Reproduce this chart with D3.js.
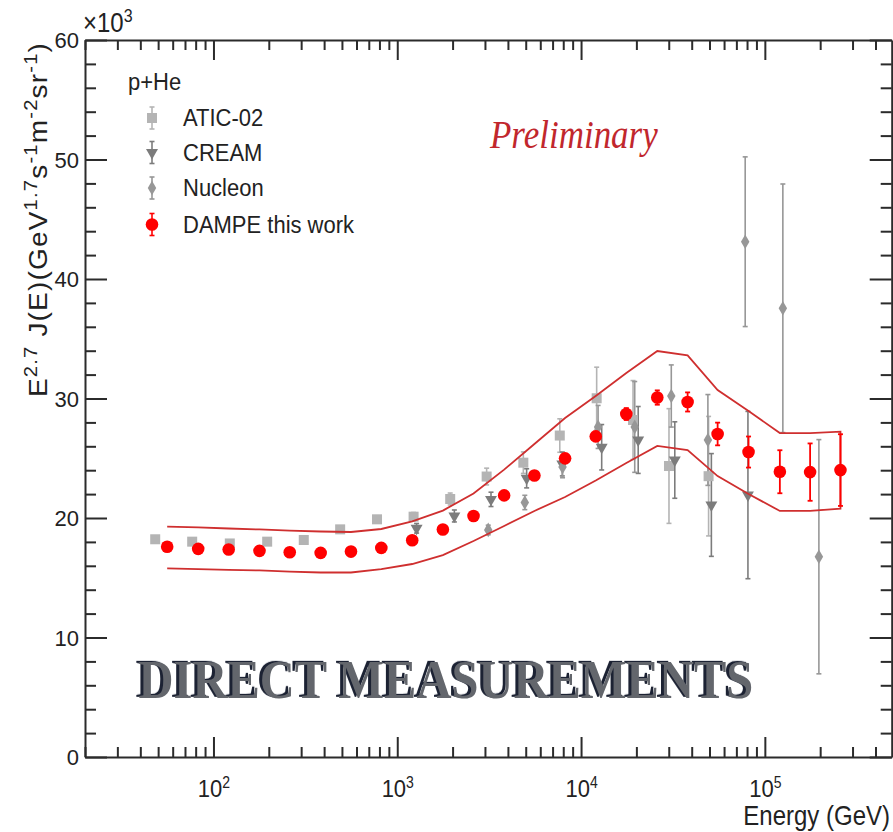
<!DOCTYPE html>
<html><head><meta charset="utf-8">
<script src="https://cdn.jsdelivr.net/npm/d3@7"></script>
<style>body{margin:0;background:#fff}svg{display:block}</style>
</head><body>
<svg id="c" width="893" height="832"></svg>
<script>
// ---------------- DATA (values in units of 10^3) ----------------
const dampeE   = [56.0, 82.6, 121, 178, 260, 383, 560, 819, 1206, 1771, 2600, 3815, 5574, 8186, 12020, 17630, 25990, 38000, 55340, 81520, 120700, 176300, 257900];
const dampeV   = [17.59, 17.42, 17.36, 17.25, 17.13, 17.08, 17.19, 17.50, 18.14, 19.04, 20.17, 21.89, 23.56, 24.99, 26.83, 28.70, 30.08, 29.71, 27.03, 25.52, 23.87, 23.84, 24.01];
const dampeErr = [0.15, 0.15, 0.15, 0.15, 0.15, 0.15, 0.15, 0.15, 0.15, 0.2, 0.2, 0.2, 0.25, 0.3, 0.4, 0.5, 0.6, 0.8, 0.95, 1.3, 1.8, 2.4, 3.0];
const bandUpper = [19.27, 19.21, 19.12, 19.04, 18.95, 18.87, 18.83, 19.08, 19.72, 20.62, 22.05, 24.05, 26.19, 28.37, 30.21, 32.13, 33.97, 33.61, 30.71, 28.95, 27.11, 27.11, 27.22];
const bandLower = [15.79, 15.73, 15.66, 15.61, 15.52, 15.44, 15.44, 15.73, 16.15, 16.90, 18.08, 19.33, 20.59, 21.76, 23.14, 24.60, 26.03, 25.69, 23.51, 22.01, 20.59, 20.59, 20.79];

const aticE   = [48.2, 76.6, 122.7, 196, 310, 489, 776, 1227, 1941, 3064, 4853, 7660, 12160, 19180, 30090, 49420];
const aticV   = [18.22, 18.02, 17.87, 18.02, 18.16, 19.05, 19.89, 20.11, 21.59, 23.47, 24.63, 26.90, 30.02, 28.20, 24.35, 23.50];
const aticErr = [0.2, 0.2, 0.2, 0.2, 0.2, 0.25, 0.3, 0.35, 0.5, 0.7, 0.9, 1.4, 2.6, 3.3, 4.8, 5.0];

const creamE   = [1274, 2045, 3236, 5058, 7907, 12950, 20460, 32360, 51170, 80910];
const creamV   = [19.14, 20.17, 21.56, 23.32, 24.52, 25.92, 26.53, 24.85, 21.09, 21.92];
const creamErr = [0.4, 0.5, 0.6, 0.8, 1.0, 1.9, 2.8, 3.2, 4.3, 7.0];

const nucleonE   = [3126, 4943, 7931, 12380, 19590, 30970, 48990, 78170, 125300, 196800];
const nucleonV   = [19.0, 21.3, 24.27, 27.62, 27.62, 30.21, 26.53, 43.12, 37.55, 16.76];
const nucleonErr = [0.4, 0.6, 0.9, 1.8, 3.8, 2.6, 3.8, 7.1, 10.4, 9.8];

const xMajorTicks = [1e2, 1e3, 1e4, 1e5];
const xTickExp = ["2", "3", "4", "5"];
const yMajorTicks = [0, 10, 20, 30, 40, 50, 60];
const legendLabels = ["ATIC-02", "CREAM", "Nucleon", "DAMPE this work"];

// ---------------- CHART ----------------
const svg = d3.select("#c");
const x = d3.scaleLog().domain([20, 4.9e5]).range([85, 891.7]);
const y = d3.scaleLinear().domain([0, 60]).range([757, 40]);
const SY = 1.12;
const AX = "#2b2b2b";
const FONT = "'Liberation Sans', Arial, Helvetica, sans-serif";
const SERIF = "'Liberation Serif', 'Times New Roman', serif";

const xMinor = [];
for (let p = 1; p <= 5; p++) for (let k = 2; k <= 9; k++) { const v = k * Math.pow(10, p); if (v >= 20 && v <= 4.9e5) xMinor.push(v); }
const yMinor = d3.range(0, 61, 2).filter(v => v % 10 !== 0);

function styleAxis(g, keepDomain) {
  if (keepDomain) g.select(".domain").attr("stroke", AX).attr("stroke-width", 2);
  else g.select(".domain").remove();
  g.selectAll(".tick line").attr("stroke", AX).attr("stroke-width", 2);
}

// minor axes
styleAxis(svg.append("g").attr("transform", "translate(0,757)")
  .call(d3.axisBottom(x).tickValues(xMinor).tickSizeInner(-10).tickSizeOuter(0).tickFormat(() => "")), false);
styleAxis(svg.append("g").attr("transform", "translate(0,40)")
  .call(d3.axisTop(x).tickValues(xMinor).tickSizeInner(-10).tickSizeOuter(0).tickFormat(() => "")), false);
styleAxis(svg.append("g").attr("transform", "translate(85,0)")
  .call(d3.axisLeft(y).tickValues(yMinor).tickSizeInner(-11).tickSizeOuter(0).tickFormat(() => "")), false);
styleAxis(svg.append("g").attr("transform", "translate(891.7,0)")
  .call(d3.axisRight(y).tickValues(yMinor).tickSizeInner(-11).tickSizeOuter(0).tickFormat(() => "")), false);

// major axes
const gxb = svg.append("g").attr("transform", "translate(0,757)")
  .call(d3.axisBottom(x).tickValues(xMajorTicks).tickSizeInner(-20).tickSizeOuter(0).tickFormat(() => "10"));
styleAxis(gxb, true);
gxb.selectAll(".tick text")
  .attr("y", 35.5).attr("dy", null).attr("transform", `scale(1,${SY})`)
  .attr("font-family", FONT).attr("font-size", 22).attr("fill", "#222")
  .each(function(d, i) {
    d3.select(this).append("tspan").attr("dy", -8).attr("font-size", 14).text(xTickExp[i]);
  });

styleAxis(svg.append("g").attr("transform", "translate(0,40)")
  .call(d3.axisTop(x).tickValues(xMajorTicks).tickSizeInner(-20).tickSizeOuter(0).tickFormat(() => "")), true);

const gyl = svg.append("g").attr("transform", "translate(85,0)")
  .call(d3.axisLeft(y).tickValues(yMajorTicks).tickSizeInner(-22).tickSizeOuter(0).tickPadding(6).tickFormat(d3.format("d")));
styleAxis(gyl, true);
gyl.selectAll(".tick text").attr("font-family", FONT).attr("font-size", 22).attr("fill", "#222")
  .attr("dy", "0.36em");

styleAxis(svg.append("g").attr("transform", "translate(891.7,0)")
  .call(d3.axisRight(y).tickValues(yMajorTicks).tickSizeInner(-22).tickSizeOuter(0).tickFormat(() => "")), true);

// helper for text with vertical stretch
function txt(xp, yp, s, size, opts = {}) {
  const t = svg.append("text")
    .attr("transform", `translate(${xp},${yp}) scale(${opts.sx || 1},${opts.sy || SY})`)
    .attr("font-family", opts.family || FONT).attr("font-size", size)
    .attr("fill", opts.fill || "#222")
    .attr("text-anchor", opts.anchor || "start");
  if (opts.italic) t.attr("font-style", "italic");
  if (opts.bold) t.attr("font-weight", "bold");
  t.text(s);
  return t;
}

// x10^3
const tx = txt(83, 32, "×10", 24);
tx.append("tspan").attr("dy", -9).attr("font-size", 16).text("3");

// axis title
txt(890, 825, "Energy (GeV)", 24, { anchor: "end" });

// y title (rotated)
const yt = svg.append("text")
  .attr("transform", `translate(47,397) scale(1,${SY}) rotate(-90)`)
  .attr("font-family", FONT).attr("font-size", 25).attr("fill", "#222")
  .attr("textLength", 316).attr("lengthAdjust", "spacing");
const parts = [["E", 0], ["2.7", 1], [" J(E)(GeV", 0], ["1.7", 1], ["s", 0], ["-1", 1], ["m", 0], ["-2", 1], ["sr", 0], ["-1", 1], [")", 0]];
let prevSup = 0;
parts.forEach(([s, sup]) => {
  const ts = yt.append("tspan").text(s);
  if (sup && !prevSup) ts.attr("dy", -10).attr("font-size", 18);
  else if (sup) ts.attr("font-size", 18);
  else if (prevSup) ts.attr("dy", 10);
  prevSup = sup;
});

// Preliminary
txt(490, 148, "Preliminary", 35, { family: SERIF, italic: true, fill: "#c1272d" });

// DIRECT MEASUREMENTS (embossed look via drop-shadow)
txt(138.5, 697.5, "DIRECT MEASUREMENTS", 48.5, { family: SERIF, bold: true, fill: "#63666c", sy: 1.15 })
  .style("filter", "drop-shadow(-2.5px -0.5px 0 #1c2233)");

// ---------------- data marks ----------------
function errBars(E, V, Err, color, w) {
  const g = svg.append("g").attr("stroke", color).attr("stroke-width", w).attr("fill", "none");
  E.forEach((e, i) => {
    const xi = x(e), y1 = y(V[i] - Err[i]), y2 = y(V[i] + Err[i]);
    g.append("line").attr("x1", xi).attr("x2", xi).attr("y1", y1).attr("y2", y2);
    g.append("line").attr("x1", xi - 2.5).attr("x2", xi + 2.5).attr("y1", y1).attr("y2", y1);
    g.append("line").attr("x1", xi - 2.5).attr("x2", xi + 2.5).attr("y1", y2).attr("y2", y2);
  });
}

const ATIC_C = "#b4b4b4", CREAM_C = "#7c7c7c", NUC_C = "#979797", DAMPE_C = "#ff0000";
const tri = d3.symbol().type(d3.symbolTriangle).size(62);
const dia = d3.symbol().type(d3.symbolDiamond).size(62);

errBars(aticE, aticV, aticErr, ATIC_C, 1.6);
errBars(creamE, creamV, creamErr, CREAM_C, 1.6);
errBars(nucleonE, nucleonV, nucleonErr, NUC_C, 1.6);

svg.append("g").selectAll("rect").data(aticE).join("rect")
  .attr("x", d => x(d) - 5).attr("y", (d, i) => y(aticV[i]) - 5).attr("width", 10).attr("height", 10).attr("fill", ATIC_C);
svg.append("g").selectAll("path").data(creamE).join("path")
  .attr("d", tri).attr("transform", (d, i) => `translate(${x(d)},${y(creamV[i])}) rotate(180)`).attr("fill", CREAM_C);
svg.append("g").selectAll("path").data(nucleonE).join("path")
  .attr("d", dia).attr("transform", (d, i) => `translate(${x(d)},${y(nucleonV[i])})`).attr("fill", NUC_C);

// band
const bandPts = dampeE.map((e, i) => [e, bandUpper[i]]).concat(dampeE.map((e, i) => [e, bandLower[i]]).reverse());
svg.append("path").attr("d", d3.line().x(d => x(d[0])).y(d => y(d[1]))(bandPts))
  .attr("fill", "none").attr("stroke", "#cf2f2f").attr("stroke-width", 1.8);

errBars(dampeE, dampeV, dampeErr, DAMPE_C, 1.8);
svg.append("g").selectAll("circle").data(dampeE).join("circle")
  .attr("cx", d => x(d)).attr("cy", (d, i) => y(dampeV[i])).attr("r", 6.3).attr("fill", DAMPE_C);

// ---------------- legend ----------------
txt(128, 90, "p+He", 22);
const legY = [118, 152.5, 188, 224.5];
const lx = 152;
const lg = svg.append("g");
const legColors = [ATIC_C, CREAM_C, NUC_C, DAMPE_C];
legY.forEach((ly, i) => {
  lg.append("line").attr("x1", lx).attr("x2", lx).attr("y1", ly - 11).attr("y2", ly + 11)
    .attr("stroke", legColors[i]).attr("stroke-width", 1.6);
  [ly - 11, ly + 11].forEach(yy => lg.append("line").attr("x1", lx - 2.5).attr("x2", lx + 2.5).attr("y1", yy).attr("y2", yy)
    .attr("stroke", legColors[i]).attr("stroke-width", 1.6));
  txt(183, ly + 8.3, legendLabels[i], 22);
});
lg.append("rect").attr("x", lx - 5).attr("y", legY[0] - 5).attr("width", 10).attr("height", 10).attr("fill", ATIC_C);
lg.append("path").attr("d", tri).attr("transform", `translate(${lx},${legY[1]}) rotate(180)`).attr("fill", CREAM_C);
lg.append("path").attr("d", dia).attr("transform", `translate(${lx},${legY[2]})`).attr("fill", NUC_C);
lg.append("circle").attr("cx", lx).attr("cy", legY[3]).attr("r", 6.3).attr("fill", DAMPE_C);
</script>
</body></html>
